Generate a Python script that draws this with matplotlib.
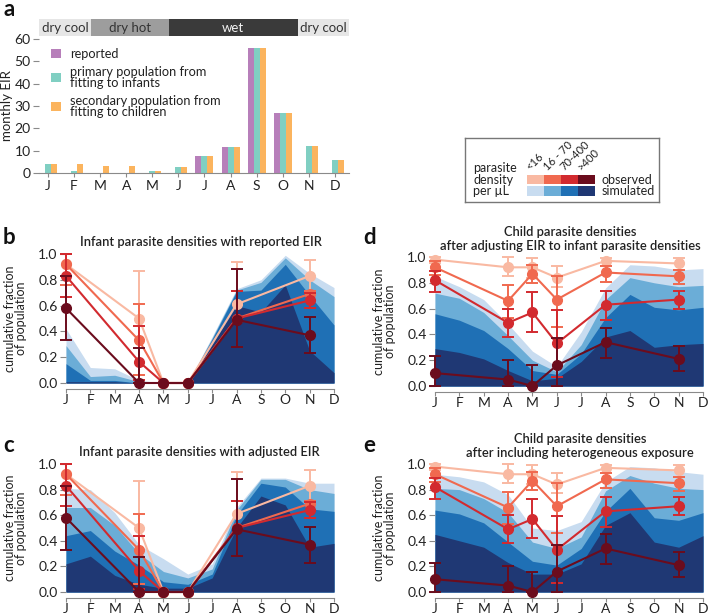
import matplotlib
matplotlib.use('Agg')
import matplotlib.pyplot as plt
import numpy as np
from matplotlib.patches import Rectangle

plt.rcParams['font.family'] = ['Lato', 'DejaVu Sans']

W, H = 708, 615

# ---------------- data ----------------
months = ['J', 'F', 'M', 'A', 'M', 'J', 'J', 'A', 'S', 'O', 'N', 'D']
eir_reported = [0, 0, 0, 0, 0, 0, 7.7, 11.5, 56, 27, 0, 0]
eir_primary = [4, 1, 0.2, 0.2, 1, 2.5, 7.7, 11.5, 56, 27, 12, 6]
eir_secondary = [4, 4, 3.2, 3.2, 1, 2.5, 7.7, 11.5, 56, 27, 12, 6]
eir_labels = ['reported', 'primary population from\nfitting to infants',
              'secondary population from\nfitting to children']
eir_colors = ['#b77fba', '#80cfc2', '#fbb45e']

seasons = ['dry cool', 'dry hot', 'wet', 'dry cool']
season_edges = [-0.345, 1.64, 4.62, 9.57, 11.54]
season_colors = ['#e6e6e6', '#9d9d9d', '#3a3a3a', '#e6e6e6']
season_text = ['#333333', '#333333', '#f2f2f2', '#333333']

density_labels = ['<16', '16 - 70', '70-400', '>400']
obs_colors = ['#f9b9a2', '#f0694f', '#d22a2f', '#6b0c1d']
sim_colors = ['#c8dcf0', '#6badd7', '#1f70b5', '#1f3874']

obs_idx = [0, 3, 4, 5, 7, 10]

infant_obs = [
    [0.92, 0.50, 0.0, 0.0, 0.61, 0.83],
    [0.92, 0.33, 0.0, 0.0, 0.50, 0.69],
    [0.83, 0.165, 0.0, 0.0, 0.50, 0.64],
    [0.58, 0.0, 0.0, 0.0, 0.49, 0.37],
]
infant_lo = [
    [0.76, 0.06, 0.0, 0.0, 0.28, 0.71],
    [0.76, 0.06, 0.0, 0.0, 0.28, 0.58],
    [0.67, 0.02, 0.0, 0.0, 0.28, 0.58],
    [0.33, 0.0, 0.0, 0.0, 0.28, 0.23],
]
infant_hi = [
    [1.0, 0.87, 0.0, 0.0, 0.94, 0.95],
    [1.0, 0.61, 0.0, 0.0, 0.71, 0.71],
    [1.0, 0.44, 0.0, 0.0, 0.71, 0.70],
    [0.83, 0.27, 0.0, 0.0, 0.88, 0.51],
]

child_obs = [
    [0.98, 0.92, 0.92, 0.84, 0.97, 0.95],
    [0.92, 0.66, 0.87, 0.67, 0.88, 0.85],
    [0.82, 0.49, 0.57, 0.33, 0.63, 0.67],
    [0.10, 0.05, 0.00, 0.16, 0.34, 0.21],
]
child_lo = [
    [0.95, 0.85, 0.84, 0.77, 0.93, 0.90],
    [0.86, 0.53, 0.80, 0.46, 0.81, 0.79],
    [0.73, 0.38, 0.42, 0.07, 0.51, 0.60],
    [0.00, 0.00, 0.00, 0.00, 0.22, 0.12],
]
child_hi = [
    [1.00, 1.00, 0.99, 0.93, 0.99, 0.99],
    [0.97, 0.78, 0.94, 0.85, 0.93, 0.90],
    [0.89, 0.60, 0.73, 0.59, 0.74, 0.74],
    [0.23, 0.20, 0.16, 0.37, 0.45, 0.31],
]

sim_b = [
    [0.42, 0.12, 0.11, 0.02, 0.0, 0.0, 0.36, 0.73, 0.80, 0.99, 0.85, 0.74],
    [0.29, 0.05, 0.06, 0.01, 0.0, 0.0, 0.35, 0.72, 0.78, 0.97, 0.80, 0.67],
    [0.15, 0.02, 0.02, 0.00, 0.0, 0.0, 0.34, 0.71, 0.72, 0.92, 0.68, 0.45],
    [0.01, 0.01, 0.01, 0.00, 0.0, 0.0, 0.30, 0.60, 0.55, 0.76, 0.25, 0.08],
]
sim_c = [
    [0.81, 0.80, 0.62, 0.37, 0.26, 0.14, 0.22, 0.66, 0.89, 0.89, 0.85, 0.85],
    [0.66, 0.66, 0.52, 0.30, 0.16, 0.11, 0.18, 0.64, 0.88, 0.88, 0.80, 0.77],
    [0.44, 0.48, 0.32, 0.21, 0.08, 0.06, 0.14, 0.60, 0.85, 0.82, 0.65, 0.63],
    [0.22, 0.28, 0.13, 0.06, 0.03, 0.03, 0.11, 0.50, 0.75, 0.68, 0.35, 0.38],
]
sim_d = [
    [0.85, 0.77, 0.67, 0.48, 0.27, 0.15, 0.42, 0.76, 0.94, 0.93, 0.90, 0.91],
    [0.72, 0.68, 0.57, 0.39, 0.20, 0.11, 0.32, 0.67, 0.84, 0.80, 0.77, 0.78],
    [0.56, 0.51, 0.43, 0.29, 0.12, 0.09, 0.25, 0.53, 0.71, 0.61, 0.59, 0.61],
    [0.29, 0.26, 0.21, 0.12, 0.04, 0.06, 0.19, 0.38, 0.43, 0.30, 0.32, 0.33],
]
sim_e = [
    [0.92, 0.90, 0.86, 0.76, 0.50, 0.48, 0.55, 0.86, 0.98, 0.97, 0.94, 0.92],
    [0.81, 0.80, 0.73, 0.62, 0.39, 0.34, 0.43, 0.79, 0.91, 0.85, 0.81, 0.80],
    [0.64, 0.61, 0.54, 0.39, 0.24, 0.21, 0.34, 0.63, 0.81, 0.58, 0.56, 0.62],
    [0.45, 0.40, 0.35, 0.23, 0.14, 0.14, 0.22, 0.52, 0.62, 0.39, 0.35, 0.44],
]

titles = {
    'b': 'Infant parasite densities with reported EIR',
    'c': 'Infant parasite densities with adjusted EIR',
    'd': 'Child parasite densities\nafter adjusting EIR to infant parasite densities',
    'e': 'Child parasite densities\nafter including heterogeneous exposure',
}

# ---------------- layout helpers ----------------
def px(x0, y0, x1, y1):
    return [x0 / W, 1 - y1 / H, (x1 - x0) / W, (y1 - y0) / H]

fig = plt.figure(figsize=(W / 100, H / 100), dpi=100)
TXT = '#222222'
GRAY = '#8a8a8a'
TICK_FS = 10
LAB_FS = 9

# ---------------- panel a ----------------
axa = fig.add_axes(px(39, 39, 349, 173))
x = np.arange(12)
bw = 0.23
for off, vals, col, lab in zip([-bw, 0, bw], [eir_reported, eir_primary, eir_secondary],
                               eir_colors, eir_labels):
    axa.bar(x + off, vals, width=bw, color=col, label=lab, linewidth=0)
axa.set_xlim(season_edges[0], season_edges[-1])
axa.set_ylim(0, 60)
axa.set_yticks(range(0, 61, 10))
axa.set_xticks(x)
axa.set_xticklabels(months)
for s in ['top', 'right', 'left']:
    axa.spines[s].set_visible(False)
axa.spines['bottom'].set_color(GRAY)
axa.tick_params(axis='both', colors=GRAY, labelcolor=TXT, labelsize=TICK_FS, length=4)
axa.tick_params(axis='y', pad=2)
axa.tick_params(axis='x', length=3, pad=2)
axa.set_ylabel('monthly EIR', fontsize=LAB_FS + 0.5, color=TXT, labelpad=1)
leg = axa.legend(loc='upper left', bbox_to_anchor=(0.015, 0.99), frameon=False,
                 fontsize=9.2, handlelength=0.75, handleheight=0.7,
                 handletextpad=0.7, labelspacing=0.45, borderaxespad=0.2)
for t in leg.get_texts():
    t.set_color(TXT)
    t.set_linespacing(0.92)

# season bar
axs = fig.add_axes(px(39, 19, 349, 36))
axs.set_xlim(season_edges[0], season_edges[-1])
axs.set_ylim(0, 1)
axs.axis('off')
for i, name in enumerate(seasons):
    a0, a1 = season_edges[i], season_edges[i + 1]
    axs.add_patch(Rectangle((a0, 0), a1 - a0, 1, color=season_colors[i], lw=0))
    axs.text((a0 + a1) / 2, 0.45, name, ha='center', va='center',
             fontsize=9.5, color=season_text[i])

# ---------------- density legend ----------------
axl = fig.add_axes(px(465, 138, 659, 202))
axl.set_xlim(0, 194)
axl.set_ylim(64, 0)
axl.set_xticks([])
axl.set_yticks([])
for s in axl.spines.values():
    s.set_color('#777777')
    s.set_linewidth(1.0)
axl.text(8, 42, 'parasite\ndensity\nper µL', fontsize=9, color=TXT,
         va='center', ha='left', linespacing=0.95)
for i, lab in enumerate(density_labels):
    x0 = 62 + 17 * i
    axl.add_patch(Rectangle((x0, 37.5), 17, 9, color=obs_colors[i], lw=0))
    axl.add_patch(Rectangle((x0, 48.5), 17, 9.5, color=sim_colors[i], lw=0))
    axl.text(x0 + 5, 34, lab, rotation=45, rotation_mode='anchor', ha='left',
             va='bottom', fontsize=8, color=TXT)
axl.text(137, 42.5, 'observed', fontsize=9, color=TXT, va='center')
axl.text(137, 53.5, 'simulated', fontsize=9, color=TXT, va='center')

# ---------------- panels b-e ----------------
def density_panel(rect, sim, obs, lo, hi):
    ax = fig.add_axes(rect)
    xm = np.arange(12)
    for k in range(4):
        ax.fill_between(xm, 0, sim[k], color=sim_colors[k], lw=0)
    xo = np.array(obs_idx)
    for k in range(4):
        y = np.array(obs[k])
        err = [y - np.array(lo[k]), np.array(hi[k]) - y]
        cont = ax.errorbar(xo, y, yerr=err, fmt='-o', color=obs_colors[k],
                           ms=7, lw=1.5, elinewidth=1.4, capsize=4,
                           capthick=1.4, zorder=3 + k)
        for art in cont.get_children():
            art.set_clip_on(False)
    ax.set_xlim(0, 11)
    ax.set_ylim(0, 1.0)
    ax.set_xticks(xm)
    ax.set_xticklabels(months)
    ax.set_yticks(np.arange(0, 1.01, 0.2))
    ax.set_yticklabels(['%.1f' % v for v in np.arange(0, 1.01, 0.2)])
    for s in ['top', 'right', 'left']:
        ax.spines[s].set_visible(False)
    ax.spines['bottom'].set_color(GRAY)
    ax.spines['bottom'].set_position(('outward', 4))
    ax.tick_params(axis='both', colors=GRAY, labelcolor=TXT, labelsize=TICK_FS)
    ax.tick_params(axis='y', length=4, pad=2)
    ax.tick_params(axis='x', length=3, pad=1.2)
    ax.set_ylabel('cumulative fraction\nof population', fontsize=LAB_FS,
                  color=TXT, labelpad=8, linespacing=0.95)
    return ax

axb = density_panel(px(66, 254, 334, 383), sim_b, infant_obs, infant_lo, infant_hi)
axc = density_panel(px(66, 464, 334, 592), sim_c, infant_obs, infant_lo, infant_hi)
axd = density_panel(px(435, 257, 703, 386), sim_d, child_obs, child_lo, child_hi)
axe = density_panel(px(435, 464, 703, 592), sim_e, child_obs, child_lo, child_hi)

# titles
TFS = 9.3
fig.text(201 / W, 1 - 242 / H, titles['b'], ha='center', va='center',
         fontsize=TFS, fontweight='semibold', color=TXT)
fig.text(199 / W, 1 - 452 / H, titles['c'], ha='center', va='center',
         fontsize=TFS, fontweight='semibold', color=TXT)
fig.text(570 / W, 1 - 238.5 / H, titles['d'], ha='center', va='center',
         fontsize=TFS, fontweight='semibold', color=TXT, linespacing=1.2)
fig.text(580 / W, 1 - 446 / H, titles['e'], ha='center', va='center',
         fontsize=TFS, fontweight='semibold', color=TXT, linespacing=1.2)

# panel letters
for lt, (lx, ly) in {'a': (3, 9), 'b': (3, 237), 'c': (3, 445),
                     'd': (363, 238), 'e': (363, 445)}.items():
    fig.text(lx / W, 1 - ly / H, lt, fontsize=16, fontweight='bold',
             ha='left', va='center', color='#111111')

fig.savefig('out.png', dpi=100)
